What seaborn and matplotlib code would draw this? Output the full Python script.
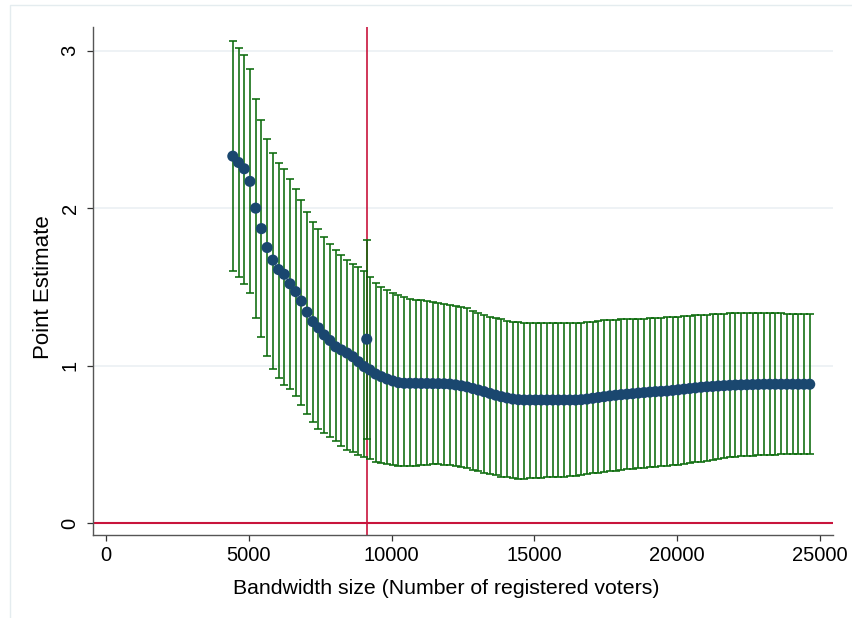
import numpy as np
import pandas as pd
import matplotlib
matplotlib.use("Agg")
import matplotlib.pyplot as plt
from matplotlib.patches import Rectangle
import seaborn as sns

# ---------------- data ----------------
bandwidth = [
    4440, 4640, 4840, 5040, 5240, 5440, 5640, 5840, 6040, 6240,
    6440, 6640, 6840, 7040, 7240, 7440, 7640, 7840, 8040, 8240,
    8440, 8640, 8840, 9040, 9240, 9440, 9640, 9840, 10040, 10240,
    10440, 10640, 10840, 11040, 11240, 11440, 11640, 11840, 12040, 12240,
    12440, 12640, 12840, 13040, 13240, 13440, 13640, 13840, 14040, 14240,
    14440, 14640, 14840, 15040, 15240, 15440, 15640, 15840, 16040, 16240,
    16440, 16640, 16840, 17040, 17240, 17440, 17640, 17840, 18040, 18240,
    18440, 18640, 18840, 19040, 19240, 19440, 19640, 19840, 20040, 20240,
    20440, 20640, 20840, 21040, 21240, 21440, 21640, 21840, 22040, 22240,
    22440, 22640, 22840, 23040, 23240, 23440, 23640, 23840, 24040, 24240,
    24440, 24640,
]
estimate = [
    2.33, 2.29, 2.25, 2.17, 2.00, 1.87, 1.75, 1.67, 1.61, 1.58,
    1.52, 1.47, 1.41, 1.34, 1.28, 1.24, 1.195, 1.16, 1.12, 1.10,
    1.08, 1.057, 1.025, 0.994, 0.973, 0.947, 0.93, 0.915, 0.903, 0.892,
    0.888, 0.888, 0.888, 0.887, 0.887, 0.886, 0.886, 0.885, 0.883, 0.878,
    0.872, 0.865, 0.855, 0.845, 0.835, 0.824, 0.813, 0.803, 0.795, 0.788,
    0.784, 0.782, 0.782, 0.782, 0.782, 0.782, 0.782, 0.782, 0.782, 0.782,
    0.782, 0.784, 0.788, 0.793, 0.798, 0.803, 0.808, 0.812, 0.816, 0.819,
    0.822, 0.826, 0.829, 0.832, 0.835, 0.837, 0.839, 0.843, 0.847, 0.851,
    0.855, 0.859, 0.863, 0.866, 0.868, 0.871, 0.873, 0.875, 0.877, 0.878,
    0.879, 0.880, 0.881, 0.882, 0.882, 0.882, 0.882, 0.882, 0.882, 0.882,
    0.882, 0.882,
]
upper = [
    3.063, 3.017, 2.975, 2.882, 2.693, 2.560, 2.439, 2.352, 2.289, 2.247,
    2.185, 2.124, 2.052, 1.976, 1.914, 1.868, 1.819, 1.773, 1.735, 1.703,
    1.671, 1.644, 1.625, 1.603, 1.561, 1.527, 1.500, 1.480, 1.464, 1.449,
    1.434, 1.425, 1.420, 1.415, 1.410, 1.403, 1.396, 1.390, 1.388, 1.380,
    1.370, 1.364, 1.350, 1.335, 1.322, 1.310, 1.300, 1.294, 1.285, 1.280,
    1.276, 1.273, 1.273, 1.273, 1.273, 1.273, 1.273, 1.273, 1.273, 1.273,
    1.273, 1.273, 1.275, 1.280, 1.283, 1.287, 1.290, 1.293, 1.294, 1.295,
    1.296, 1.297, 1.299, 1.301, 1.303, 1.305, 1.307, 1.310, 1.312, 1.315,
    1.317, 1.320, 1.322, 1.324, 1.326, 1.328, 1.330, 1.332, 1.333, 1.333,
    1.333, 1.333, 1.333, 1.333, 1.333, 1.333, 1.332, 1.331, 1.330, 1.329,
    1.328, 1.328,
]
lower = [
    1.60, 1.56, 1.52, 1.46, 1.30, 1.18, 1.06, 0.98, 0.92, 0.88,
    0.85, 0.81, 0.75, 0.69, 0.64, 0.60, 0.575, 0.545, 0.52, 0.49,
    0.465, 0.45, 0.43, 0.42, 0.41, 0.39, 0.38, 0.375, 0.37, 0.365,
    0.36, 0.362, 0.365, 0.368, 0.372, 0.374, 0.373, 0.372, 0.37, 0.363,
    0.355, 0.349, 0.34, 0.33, 0.321, 0.312, 0.303, 0.295, 0.29, 0.285,
    0.283, 0.283, 0.285, 0.287, 0.289, 0.291, 0.293, 0.295, 0.296, 0.298,
    0.302, 0.306, 0.311, 0.316, 0.321, 0.325, 0.329, 0.333, 0.337, 0.342,
    0.346, 0.349, 0.352, 0.355, 0.358, 0.361, 0.363, 0.367, 0.372, 0.377,
    0.381, 0.386, 0.39, 0.396, 0.401, 0.407, 0.413, 0.419, 0.423, 0.425,
    0.427, 0.429, 0.431, 0.433, 0.434, 0.435, 0.436, 0.437, 0.438, 0.438,
    0.439, 0.439,
]
# optimal bandwidth estimate (marked by the vertical line)
opt_bandwidth = [9130]
opt_estimate = [1.168]
opt_upper = [1.798]
opt_lower = [0.535]

x_ticks = [0, 5000, 10000, 15000, 20000, 25000]
y_ticks = [0, 1, 2, 3]
x_label = "Bandwidth size (Number of registered voters)"
y_label = "Point Estimate"

# ---------------- styling ----------------
NAVY = "#1a476f"
GREEN = "#0b6a0b"
RED = "#c8143c"
GRID = "#e9eff2"

sns.set_theme(style="white")
plt.rcParams["font.family"] = ["Liberation Sans", "DejaVu Sans"]

df = pd.DataFrame({"bw": bandwidth + opt_bandwidth,
                   "est": estimate + opt_estimate,
                   "lo": lower + opt_lower,
                   "hi": upper + opt_upper})

W, H = 853, 618
fig = plt.figure(figsize=(W / 100, H / 100), dpi=100)
fig.patch.set_facecolor("white")
# faint outer graph-region frame (left and top edges visible)
fig.patches.append(Rectangle((10 / W, -10 / H), (W + 5 - 10) / W, (H + 10 - 5) / H,
                             transform=fig.transFigure, fill=False,
                             edgecolor="#e4ecef", linewidth=1.0, zorder=0))

ax_l, ax_r, ax_t, ax_b = 92.7, 832.7, 27.0, 535.3
ax = fig.add_axes([ax_l / W, 1 - ax_b / H, (ax_r - ax_l) / W, (ax_b - ax_t) / H])
ax.set_facecolor("white")

ax.set_xlim(-466, 25445)
ax.set_ylim(-0.077, 3.15)

for yv in [1, 2, 3]:
    ax.axhline(yv, color=GRID, lw=1.1, zorder=0.5)

ax.axvline(opt_bandwidth[0], color=RED, lw=1.2, zorder=1)
ax.axhline(0, color=RED, lw=1.5, zorder=1)

ax.errorbar(df["bw"], df["est"],
            yerr=[df["est"] - df["lo"], df["hi"] - df["est"]],
            fmt="none", ecolor=GREEN, elinewidth=1.15, capsize=3.2,
            capthick=1.15, zorder=2)

sns.scatterplot(data=df, x="bw", y="est", ax=ax, color=NAVY, s=64,
                edgecolor="none", linewidth=0, zorder=3, legend=False)

ax.set_xticks(x_ticks)
ax.set_xticklabels([str(v) for v in x_ticks])
ax.set_yticks(y_ticks)
ax.set_yticklabels([str(v) for v in y_ticks], rotation=90, va="center")

for side in ["top", "right"]:
    ax.spines[side].set_visible(False)
for side in ["left", "bottom"]:
    ax.spines[side].set_color("#555555")
    ax.spines[side].set_linewidth(1.0)

ax.tick_params(axis="both", which="major", direction="out", length=4.5, width=0.9,
               color="#333333", labelsize=14.5, labelcolor="black", bottom=True, left=True)
ax.tick_params(axis="x", pad=3.2)
ax.tick_params(axis="y", pad=5.0)

ax.set_xlabel(x_label, fontsize=15.3, color="black")
ax.set_ylabel(y_label, fontsize=16, color="black")
# title anchors (x label: top edge; y label: right edge of rotated text)
ax.xaxis.set_label_coords((446.5 - ax_l) / (ax_r - ax_l), -(578.5 - ax_b) / (ax_b - ax_t))
ax.yaxis.set_label_coords((54.5 - ax_l) / (ax_r - ax_l), (ax_b - 287) / (ax_b - ax_t))

fig.savefig("out.png", dpi=100)
